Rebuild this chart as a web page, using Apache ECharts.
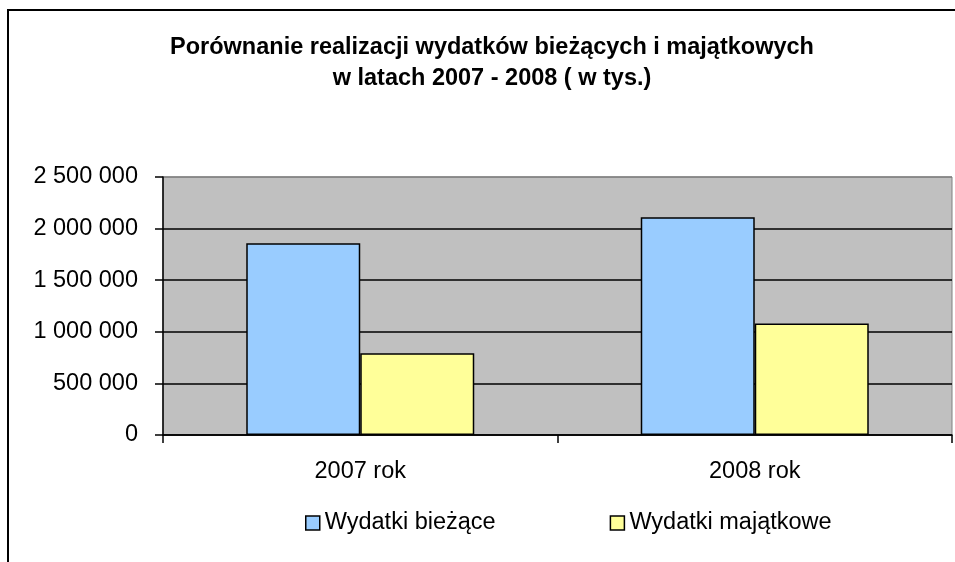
<!DOCTYPE html>
<html>
<head>
<meta charset="utf-8">
<script src="https://cdn.jsdelivr.net/npm/echarts@6/dist/echarts.min.js"></script>
<style>
  html, body { margin: 0; padding: 0; background: #fff; }
  #main { width: 955px; height: 562px; }
</style>
</head>
<body>
<div id="main"></div>
<script>
// dane z wykresu (w tys.)
var categories = ['2007 rok', '2008 rok'];
var seriesNames = ['Wydatki bieżące', 'Wydatki majątkowe'];
var biezace = [1857000, 2109000];
var majatkowe = [791000, 1081000];
var yTicks = [0, 500000, 1000000, 1500000, 2000000, 2500000];

var chart = echarts.init(document.getElementById('main'));
var font = 'Arial, "Liberation Sans", sans-serif';

// separator tysięcy: spacja
function fmt(v) {
  return String(v).replace(/\B(?=(\d{3})+(?!\d))/g, ' ');
}

var option = {
  animation: false,
  textStyle: { fontFamily: font },
  graphic: [{
    type: 'rect',
    shape: { x: 8, y: 10, width: 1200, height: 800 },
    style: { fill: 'none', stroke: '#000', lineWidth: 2 },
    silent: true
  }],
  title: {
    text: 'Porównanie realizacji wydatków bieżących i majątkowych\nw latach 2007 - 2008 ( w tys.)',
    left: 487,
    top: 27,
    textAlign: 'center',
    textStyle: {
      fontFamily: font,
      fontSize: 23.5,
      fontWeight: 'bold',
      color: '#000',
      lineHeight: 31
    }
  },
  legend: {
    data: seriesNames,
    left: 300,
    top: 506,
    itemWidth: 14,
    itemHeight: 14,
    itemGap: 114,
    icon: 'rect',
    itemStyle: { borderColor: '#000', borderWidth: 1.5 },
    textStyle: { fontFamily: font, fontSize: 23.5, color: '#000' }
  },
  grid: {
    left: 163,
    right: 3,
    top: 177,
    bottom: 127,
    show: true,
    backgroundColor: '#C0C0C0',
    borderColor: '#808080',
    borderWidth: 1
  },
  xAxis: {
    type: 'category',
    data: categories,
    axisLine: { lineStyle: { color: '#000', width: 1.5 } },
    axisTick: { show: true, inside: false, length: 8, lineStyle: { color: '#000', width: 1.5 } },
    axisLabel: { color: '#000', fontSize: 23.5, margin: 25, fontFamily: font }
  },
  yAxis: {
    type: 'value',
    min: yTicks[0],
    max: yTicks[yTicks.length - 1],
    interval: 500000,
    axisLine: { show: true, lineStyle: { color: '#000', width: 1.5 } },
    axisTick: { show: true, inside: false, length: 8, lineStyle: { color: '#000', width: 1.5 } },
    axisLabel: { color: '#000', fontSize: 23.5, margin: 25, fontFamily: font, formatter: fmt },
    splitLine: {
      show: true,
      lineStyle: { color: ['#000', '#000', '#000', '#000', '#000', '#808080'], width: 1.5 }
    }
  },
  series: [
    {
      name: seriesNames[0],
      type: 'bar',
      data: biezace,
      barWidth: 114,
      barGap: '0%',
      itemStyle: { color: '#99CCFF', borderColor: '#000', borderWidth: 1.5 }
    },
    {
      name: seriesNames[1],
      type: 'bar',
      data: majatkowe,
      barWidth: 114,
      barGap: '0%',
      itemStyle: { color: '#FFFF99', borderColor: '#000', borderWidth: 1.5 }
    }
  ]
};

chart.setOption(option);
</script>
</body>
</html>
